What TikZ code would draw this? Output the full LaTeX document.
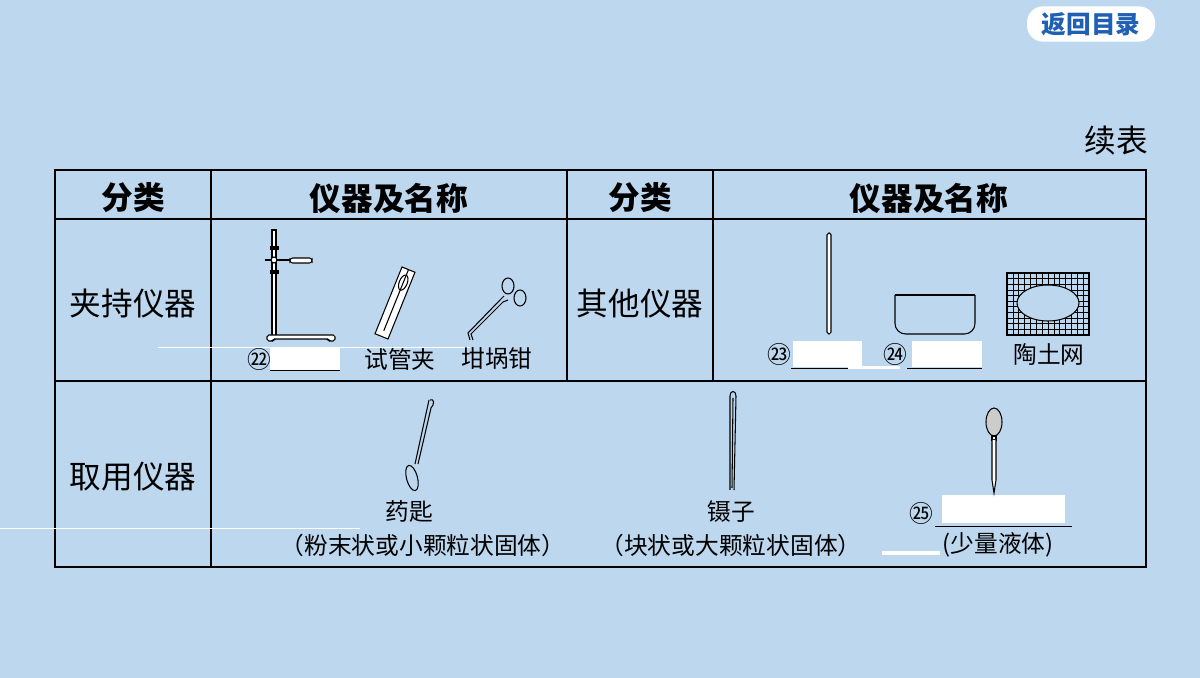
\documentclass[tikz,border=0pt]{standalone}
\usepackage{fontspec}
\setmainfont{Noto Sans CJK SC}
\usetikzlibrary{positioning}
\definecolor{bgblue}{HTML}{BDD7EE}
\definecolor{btnblue}{HTML}{1F5FB4}
\tikzset{
  cell/.style={font=\fontsize{18pt}{20pt}\selectfont},
  head/.style={font=\bfseries\fontsize{18pt}{20pt}\selectfont},
  lab/.style={font=\fontsize{13.5pt}{15pt}\selectfont},
  blank/.style={fill=white,draw=none},
  tool/.style={draw=black,line width=0.6pt},
}
\begin{document}
\begin{tikzpicture}[x=0.02cm,y=-0.02cm]
  % background
  \fill[bgblue] (0,0) rectangle (1200,678);
  \useasboundingbox (0,0) rectangle (1200,678);

  % button
  \node[fill=white,rounded corners=9pt,minimum width=2.56cm,minimum height=0.64cm,
        text=btnblue,font=\bfseries\fontsize{14pt}{16pt}\selectfont] (back) at (1091,24) {返回目录};
  \node[font=\fontsize{18pt}{20pt}\selectfont] (xu) at (1116,141) {续表};

  % table
  \draw[line width=0.8pt] (55,170) rectangle (1146,567);
  \draw[line width=0.8pt] (55,219) -- (1146,219);
  \draw[line width=0.8pt] (55,381) -- (1146,381);
  \draw[line width=0.8pt] (211,170) -- (211,567);
  \draw[line width=0.8pt] (567,170) -- (567,381);
  \draw[line width=0.8pt] (713,170) -- (713,381);
  \node[head] (h1) at (133,198) {分类};
  \node[head] (h2) at (389,198) {仪器及名称};
  \node[head] (h3) at (640,198) {分类};
  \node[head] (h4) at (929,198) {仪器及名称};
  \node[cell] (c1) at (133,304) {夹持仪器};
  \node[cell] (c2) at (640,304) {其他仪器};
  \node[cell] (c3) at (133,477) {取用仪器};

  % faint lines
  \draw[white,line width=0.5pt] (158,347) -- (470,347);
  \draw[white,line width=0.5pt] (0,528) -- (360,528);

  % iron stand
  \draw[tool,fill=white] (272,230) rectangle (276,336);
  \draw[tool,fill=white,rounded corners=1pt] (267,335) -- (335,335) -- (335,341) -- (329,341) -- (328,339) -- (274,339) -- (273,341) -- (267,341) -- cycle;
  \draw[tool] (265,260) -- (290,260);
  \draw[tool,fill=white,rounded corners=1.5pt] (290,258) rectangle (312,263);
  \fill (270,246) rectangle (279,250);
  \fill (270,270) rectangle (279,274);
  \draw[tool,fill=white] (274,260) circle (3);
  % test tube clamp
  \begin{scope}[shift={(395,303)},rotate=-22]
    \draw[tool,fill=white] (-7,-36) rectangle (7,36);
    \draw[tool] (0,-36) -- (0,30);
    \draw[tool] (0,-22) ellipse (4 and 8);
  \end{scope}
  % crucible tongs
  \draw[tool] (470,340) -- (468,333) -- (500,300) -- (504,296);
  \draw[tool] (473,340) -- (471,334) -- (503,302) -- (508,300);
  \draw[tool] (508,286) ellipse (6 and 8);
  \draw[tool] (520,298) ellipse (6 and 8);

  % glass rod
  \draw[tool,fill=white,rounded corners=1pt] (827,233) rectangle (831,334);
  % trough
  \draw[tool,rounded corners=6pt] (895,295) -- (895,334) -- (975,334) -- (975,295);
  \draw[tool] (895,295) -- (975,295);
  % gauze
  \foreach \i in {0,...,14} \draw[line width=0.4pt] (1007+\i*5.86,273) -- (1007+\i*5.86,335);
  \foreach \j in {0,...,11} \draw[line width=0.4pt] (1007,273+\j*5.64) -- (1089,273+\j*5.64);
  \draw[line width=0.8pt] (1007,273) rectangle (1089,335);
  \draw[tool,fill=bgblue] (1048,303) ellipse (31 and 18);

  % blanks
  \fill[blank] (270,348) rectangle (340,370);
  \draw (270,370) -- (340,370);
  \fill[blank] (793,341) rectangle (862,367);
  \draw (791,368) -- (866,368);
  \fill[blank] (848,366) rectangle (900,369);
  \fill[blank] (912,341) rectangle (982,367);
  \draw (907,368) -- (982,368);
  \fill[blank] (942,495) rectangle (1065,523);
  \draw (935,526) -- (1072,526);
  \fill[blank] (882,551) rectangle (940,555);

  % labels row 2
  \node[lab] (n22) at (259,359) {㉒};
  \node[lab] (sgj) at (400,359) {试管夹};
  \node[lab] (gqq) at (497,359) {坩埚钳};
  \node[lab] (n23) at (779,354) {㉓};
  \node[lab] (n24) at (895,354) {㉔};
  \node[lab] (ttw) at (1049,354) {陶土网};

  % spoon
  \draw[tool] (430,400) .. controls (434,398) and (435,404) .. (431,408) -- (418,464);
  \draw[tool] (429,400) -- (415,464);
  \draw[tool,rotate around={15:(412,478)}] (412,478) ellipse (5.5 and 13);
  % tweezers
  \draw[tool] (730,490) -- (730,396) .. controls (730,390) and (736,390) .. (736,396) -- (734,490);
  \draw[tool] (733,398) -- (732,488);
  % dropper
  \draw[tool,fill=black!20] (994,422) ellipse (8 and 14);
  \draw[tool,fill=white] (992,436) rectangle (996,440);
  \draw[tool,fill=white] (992,440) -- (992,480) -- (994,493) -- (996,480) -- (996,440);

  % labels row 3
  \node[lab] (ys) at (409,512) {药匙};
  \node[lab] (nz) at (731,512) {镊子};
  \node[lab] (n25) at (921,513) {㉕};
  \node[lab] (d1) at (423,545) {（粉末状或小颗粒状固体）};
  \node[lab] (d2) at (731,545) {（块状或大颗粒状固体）};
  \node[lab] (d3) at (998,545) {(少量液体)};
\end{tikzpicture}
\end{document}
